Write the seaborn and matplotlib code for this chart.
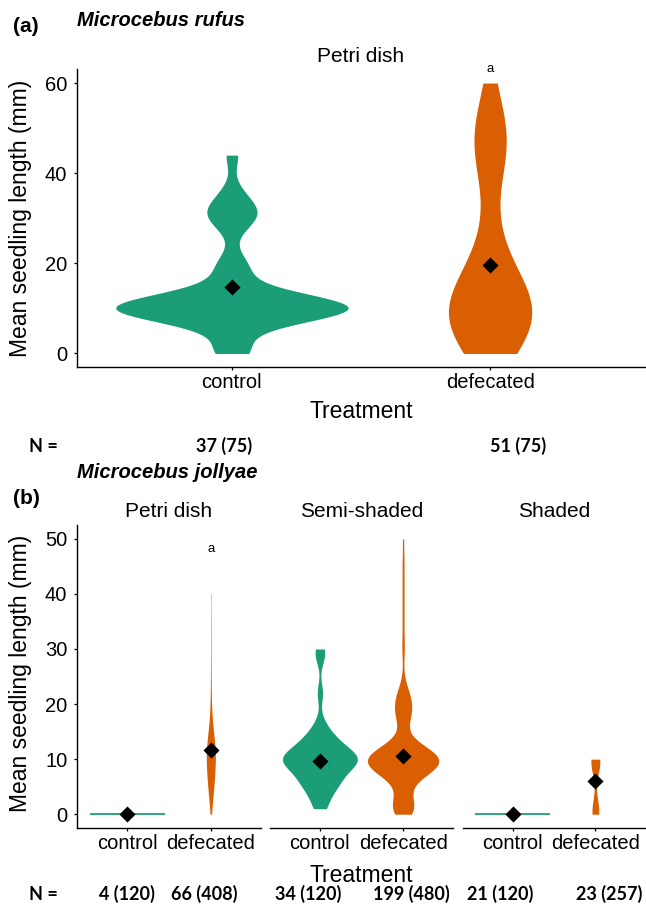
import numpy as np
import pandas as pd
import matplotlib
matplotlib.use("Agg")
import matplotlib.pyplot as plt
import seaborn as sns

# ------------------------------------------------------------------ data
treatments = ["control", "defecated"]
setups_b = ["Petri dish", "Semi-shaded", "Shaded"]
palette = {"control": "#1B9E77", "defecated": "#D95F02"}

# (a) Microcebus rufus, Petri dish: seedling lengths (mm), estimated from violins
rufus_control = [0, 0.5, 2, 6, 7, 8, 8.5, 9, 9, 9.5, 9.5, 9.5, 10, 10, 10, 10, 10,
                 10.5, 10.5, 10.5, 11, 11, 11.5, 12, 12.5, 13, 14, 18, 18.5, 21,
                 28, 30, 31, 32, 33, 36, 44]
rufus_defecated = [0, 0, 0.5, 1, 2, 3, 3.5, 4, 4.5, 5.5, 6, 6.5, 7, 7.5, 8, 8,
                   8.5, 9, 9.5, 10, 10.5, 11, 11.5, 12, 12.5, 13, 14, 14.5,
                   15.5, 16, 17, 18, 19, 20.5, 22, 25, 29, 33, 39.5, 41, 43,
                   44.5, 46, 47, 48, 49, 50, 51, 53, 57, 60]

# (b) Microcebus jollyae
petri_control = [0, 0, 0, 0]
petri_defecated = [0, 1, 2, 2.5, 3, 3.5, 4, 4, 4.5, 5, 5, 5.5, 6, 6, 6, 6.5, 7,
                   7, 7, 7.5, 8, 8, 8, 8.5, 8.5, 9, 9, 9.5, 9.5, 9.5, 10, 10,
                   10, 10.5, 10.5, 11, 11, 11, 11.5, 11.5, 12, 12, 12, 12.5,
                   12.5, 13, 13, 13.5, 13.5, 14, 14, 14.5, 15, 15, 15.5, 16,
                   16.5, 17, 18, 19, 20, 22, 24, 27, 31, 35, 40]
semi_control = [1, 2, 3.5, 4.5, 5, 5.5, 6, 6.5, 7, 7.5, 8, 8.5, 9, 9, 9.5, 9.5,
                10, 10, 10, 10.5, 10.5, 11, 11, 11.5, 12, 12.5, 13, 13.5, 14,
                15, 16.5, 22, 28.5, 30]
semi_def_values = [0, 1, 2, 3, 4, 5, 6, 7, 8, 9, 10, 11, 12, 13, 14, 15, 16, 17,
                   18, 19, 20, 21, 22, 23, 24, 25, 28, 30, 31, 33, 35, 37, 39,
                   41, 43, 45, 47, 50]
semi_def_counts = [8, 6, 6, 5, 4, 4, 6, 12, 17, 20, 22, 19, 13, 7, 4, 2, 2, 4,
                   4, 5, 5, 4, 4, 2, 1, 1, 1, 1, 1, 1, 1, 1, 1, 1, 1, 1, 1, 1]
shaded_control = [0, 0, 0, 0, 0, 0, 0, 0, 0, 0, 0, 0, 0, 0, 0, 0, 0, 0, 0, 0, 0]
shaded_defecated = [0, 0, 0, 0, 0, 0, 0.5, 1, 1.5, 2, 8, 8.5, 9, 9, 9.5, 9.5,
                    10, 10, 10, 10, 10, 10, 10]

# group means (black diamonds)
mean_rufus = [14.7, 19.6]
mean_petri = [0.0, 11.6]
mean_semi = [9.6, 10.5]
mean_shaded = [0.0, 6.0]

# significance letters (group, y)
sig_a = ("defecated", 62.5)
sig_b = ("defecated", 47.6)

n_labels_a = ["37 (75)", "51 (75)"]
n_labels_b = ["4 (120)", "66 (408)", "34 (120)", "199 (480)", "21 (120)", "23 (257)"]

semi_defecated = list(np.repeat(semi_def_values, semi_def_counts))

# ------------------------------------------------------------------ helpers
def nrd0_h(x):
    x = np.asarray(x, float)
    sd = x.std(ddof=1) if len(x) > 1 else 0.0
    q75, q25 = np.percentile(x, [75, 25])
    lo = min(sd, (q75 - q25) / 1.34)
    if lo == 0:
        lo = sd or abs(x[0]) or 1.0
    return 0.9 * lo * len(x) ** -0.2


def nrd0_factor(kde):
    x = np.asarray(kde.dataset[0], float)
    return nrd0_h(x) / x.std(ddof=1)


def kde_peak(x, n_grid=512):
    x = np.asarray(x, float)
    h = nrd0_h(x)
    grid = np.linspace(x.min(), x.max(), n_grid)
    d = np.exp(-0.5 * ((grid[:, None] - x[None, :]) / h) ** 2).sum(1)
    return (d / (len(x) * h * np.sqrt(2 * np.pi))).max()


def draw_panel(ax, groups, means):
    peaks = {t: kde_peak(v) for t, v in groups.items()}
    pmax = max(peaks.values())
    live = {t: v for t, v in groups.items() if len(set(v)) > 1}
    if live:
        df = pd.DataFrame({"Treatment": np.concatenate([[t] * len(v) for t, v in live.items()]),
                           "y": np.concatenate([np.asarray(v, float) for v in live.values()])})
        w = 0.9 * max(peaks[t] for t in live) / pmax
        sns.violinplot(data=df, x="Treatment", y="y", hue="Treatment", order=treatments,
                       hue_order=treatments, palette=palette, legend=False, inner=None,
                       cut=0, bw_method=nrd0_factor, gridsize=512, density_norm="area",
                       common_norm=True, width=w, linewidth=0, saturation=1, ax=ax)
    for t, v in groups.items():
        if len(set(v)) == 1:
            pos = treatments.index(t)
            half = 0.45 * peaks[t] / pmax
            ax.hlines(v[0], pos - half, pos + half, color=palette[t], lw=1.3, zorder=3)
    sns.stripplot(x=treatments, y=means, order=treatments, jitter=False, marker="D",
                  size=8.2, color="black", linewidth=0, ax=ax, zorder=5)


def style_ax(ax, ylim, yticks, left=True):
    ax.set_xlim(-0.6, 1.6)
    ax.set_ylim(*ylim)
    ax.set_xticks([0, 1])
    ax.set_xticklabels(treatments)
    ax.set_xlabel("")
    ax.set_ylabel("")
    for s in ["top", "right"]:
        ax.spines[s].set_visible(False)
    ax.spines["bottom"].set_linewidth(1.0)
    ax.spines["left"].set_linewidth(1.0)
    ax.tick_params(axis="x", length=2.5, width=0.9, pad=2.0, labelsize=14.5, colors="black")
    if left:
        ax.set_yticks(yticks)
        ax.tick_params(axis="y", length=2.5, width=0.9, pad=4.5, labelsize=14.5, colors="black")
    else:
        ax.spines["left"].set_visible(False)
        ax.set_yticks([])
    ax.set_facecolor("none")


# ------------------------------------------------------------------ figure
plt.rcParams["font.family"] = ["Liberation Sans", "DejaVu Sans"]
W, H = 646, 917
fig = plt.figure(figsize=(W / 100, H / 100), dpi=100)
fig.patch.set_facecolor("white")


def T(x, y, s, **kw):
    fig.text(x / W, 1 - y / H, s, **kw)


def add_ax(left, right, top, bottom):
    return fig.add_axes([left / W, 1 - bottom / H, (right - left) / W, (bottom - top) / H])


# panel (a)
ax_a = add_ax(77, 645, 69.5, 367)
draw_panel(ax_a, {"control": rufus_control, "defecated": rufus_defecated}, mean_rufus)
style_ax(ax_a, (-3, 63), [0, 20, 40, 60])
ax_a.text(treatments.index(sig_a[0]), sig_a[1], "a", ha="center", va="baseline",
          fontsize=9.5, clip_on=False)

# panel (b)
facet_x = [(77, 261), (270, 453), (463, 645)]
groups_b = [
    {"control": petri_control, "defecated": petri_defecated},
    {"control": semi_control, "defecated": semi_defecated},
    {"control": shaded_control, "defecated": shaded_defecated},
]
means_b = [mean_petri, mean_semi, mean_shaded]
axes_b = []
for i, (l, r) in enumerate(facet_x):
    ax = add_ax(l, r, 525, 828)
    draw_panel(ax, groups_b[i], means_b[i])
    style_ax(ax, (-2.5, 52.5), [0, 10, 20, 30, 40, 50], left=(i == 0))
    axes_b.append(ax)
axes_b[0].text(treatments.index(sig_b[0]), sig_b[1], "a", ha="center", va="baseline",
               fontsize=9.5, clip_on=False)

# ------------------------------------------------------------------ texts
T(13, 32, "(a)", ha="left", va="baseline", fontsize=15, fontweight="bold")
T(77, 26, "Microcebus rufus", ha="left", va="baseline", fontsize=14.5,
  fontweight="bold", style="italic")
T(361, 62, "Petri dish", ha="center", va="baseline", fontsize=15)
T(361, 418, "Treatment", ha="center", va="baseline", fontsize=16.5)
T(21, 218, "Mean seedling length (mm)", ha="center", va="center", rotation=90, fontsize=16.5)

nfont = dict(va="baseline", fontsize=13, fontweight="bold", family=["Lato", "DejaVu Sans"])
T(29, 452, "N =", ha="left", **nfont)
for xc, s in zip([224, 518], n_labels_a):
    T(xc, 452, s, ha="center", **nfont)

T(77, 478, "Microcebus jollyae", ha="left", va="baseline", fontsize=14.5,
  fontweight="bold", style="italic")
T(13, 504, "(b)", ha="left", va="baseline", fontsize=15, fontweight="bold")
for (l, r), s in zip(facet_x, setups_b):
    T((l + r) / 2, 517, s, ha="center", va="baseline", fontsize=15)
T(361, 882, "Treatment", ha="center", va="baseline", fontsize=16.5)
T(21, 673, "Mean seedling length (mm)", ha="center", va="center", rotation=90, fontsize=16.5)
T(29, 900, "N =", ha="left", **nfont)
for xc, s in zip([127, 204, 308, 411, 500, 609], n_labels_b):
    T(xc, 900, s, ha="center", **nfont)

fig.savefig("out.png", dpi=100, facecolor="white")
